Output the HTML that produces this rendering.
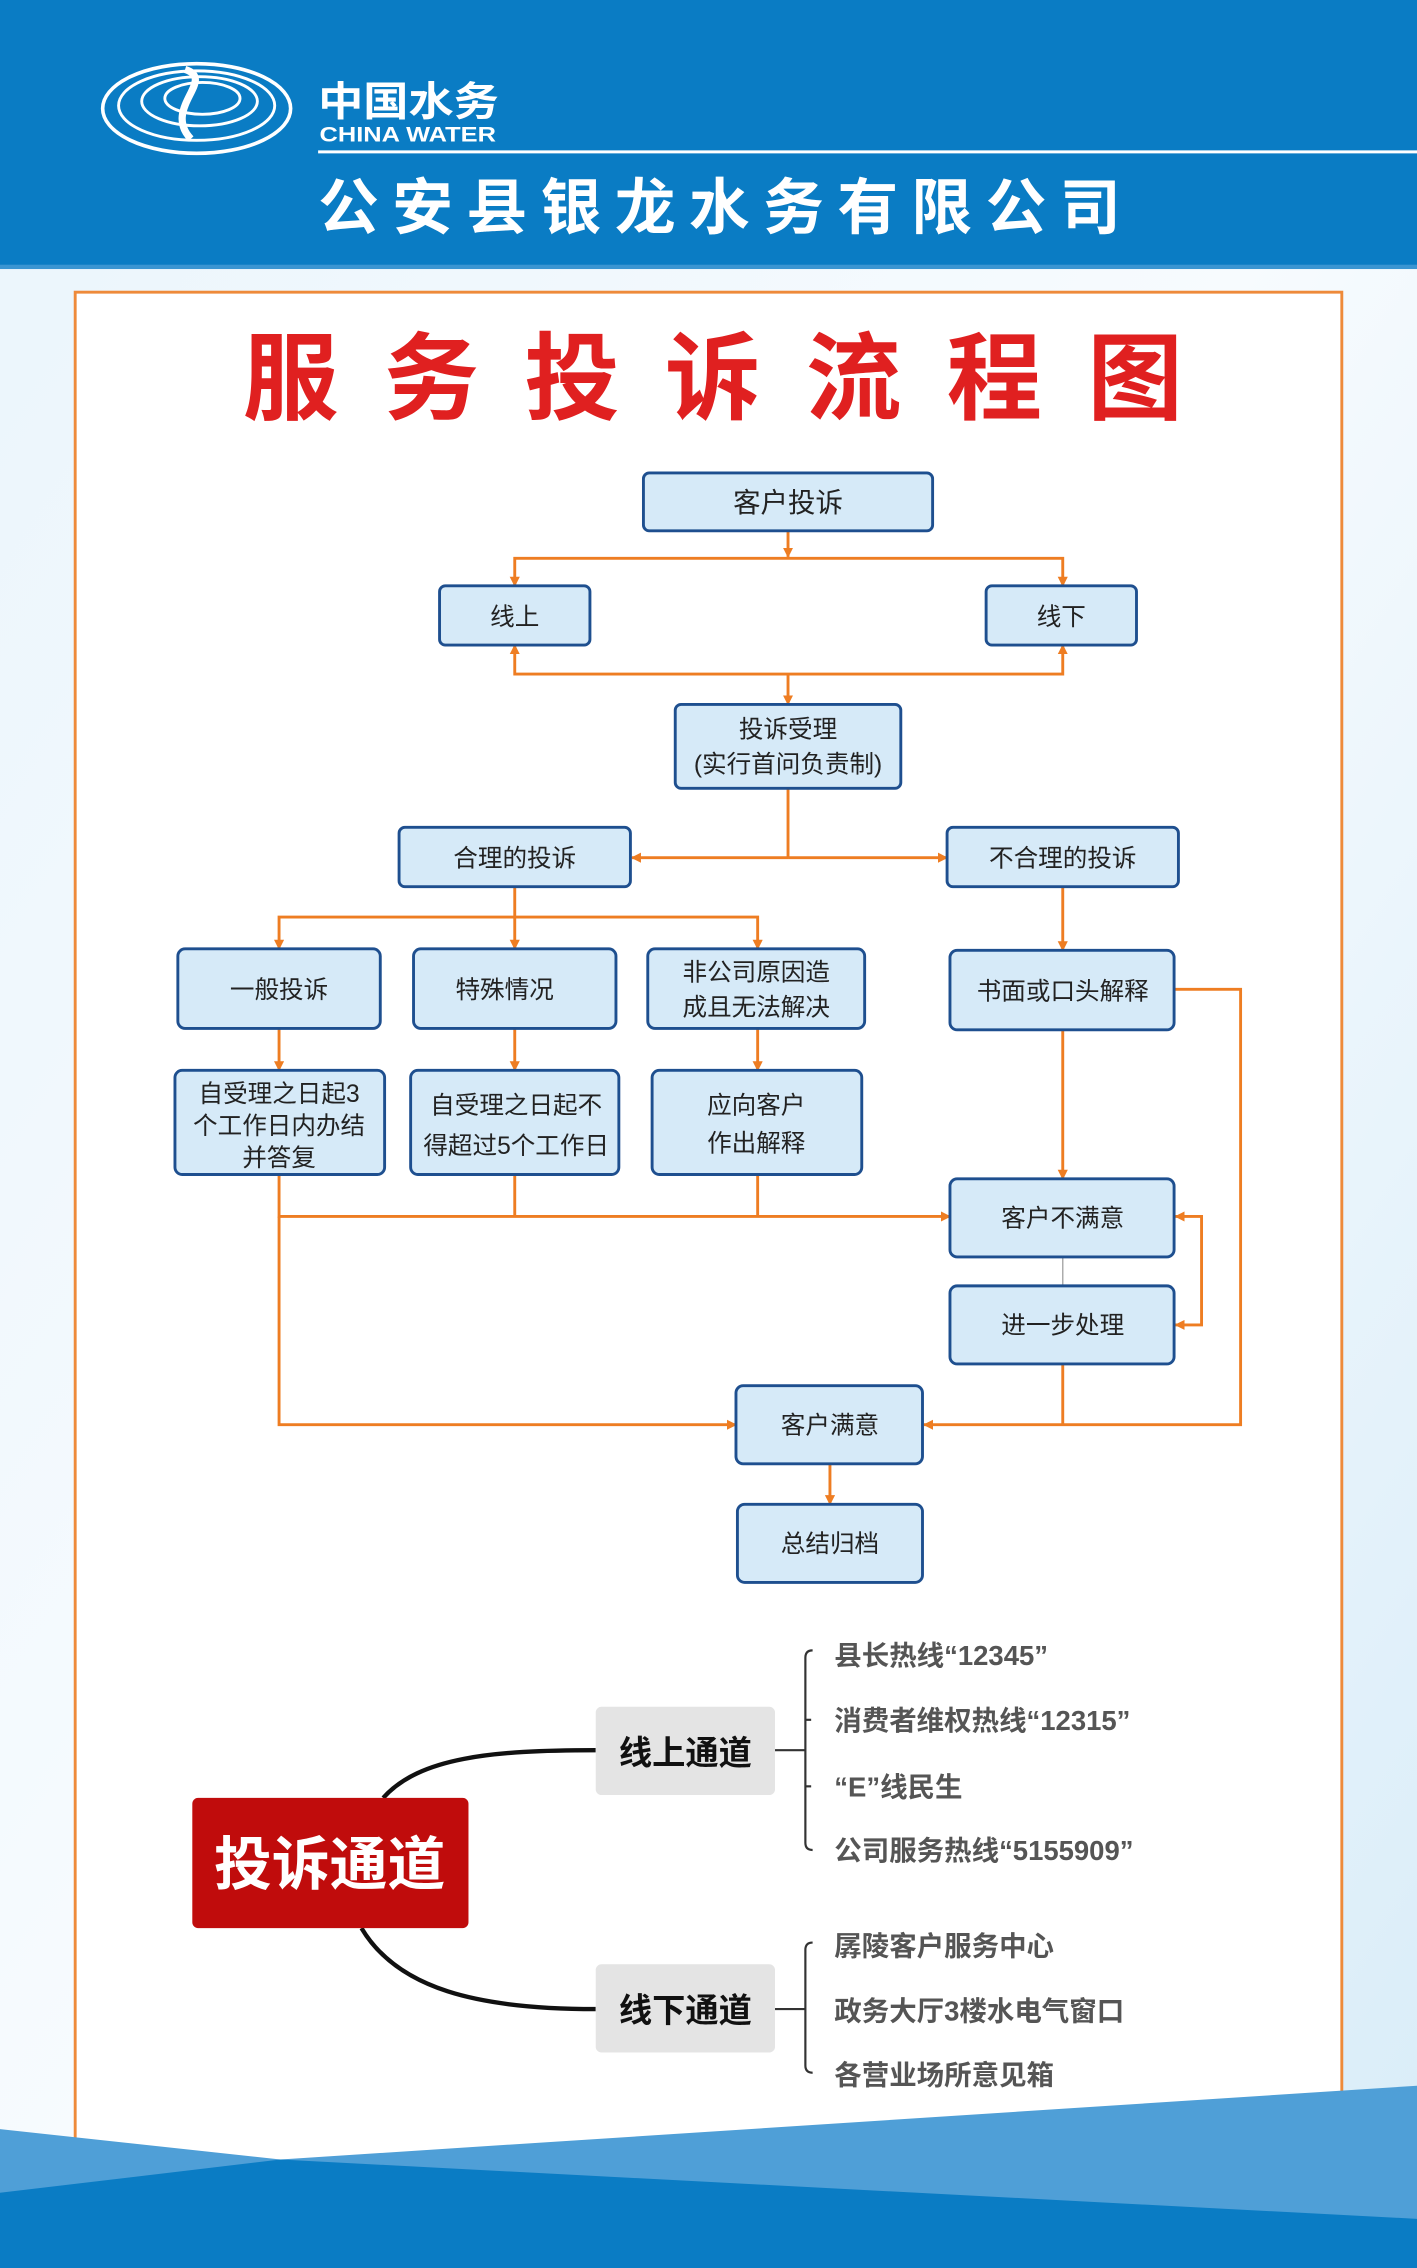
<!DOCTYPE html>
<html><head><meta charset="utf-8"><style>
html,body{margin:0;padding:0;background:#fff;}
svg{display:block;}
text{font-family:"Liberation Sans","Noto Sans CJK SC",sans-serif;}
</style></head><body>
<svg width="1417" height="2268" viewBox="0 0 980 1568" preserveAspectRatio="none" xmlns="http://www.w3.org/2000/svg">
<defs>
<linearGradient id="bg" x1="0" y1="0" x2="1" y2="1">
<stop offset="0" stop-color="#eaf5fc"/><stop offset="0.5" stop-color="#f7fbfe"/><stop offset="1" stop-color="#d8ecf8"/>
</linearGradient>
<marker id="ar" viewBox="0 0 10 10" refX="9" refY="5" markerWidth="7" markerHeight="7" orient="auto-start-reverse" markerUnits="userSpaceOnUse">
<path d="M0,0 L10,5 L0,10 z" fill="#ee7d22"/></marker>
</defs>
<rect x="0" y="0" width="980" height="1568" fill="url(#bg)"/>
<!-- header -->
<rect x="0" y="0" width="980" height="185" fill="#0a7cc4"/>
<rect x="0" y="183" width="980" height="3" fill="#3a95d2"/>
<line x1="220" y1="105" x2="980" y2="105" stroke="#fff" stroke-width="2"/>
<g fill="none" stroke="#fff">
<ellipse cx="136" cy="75" rx="65" ry="31" stroke-width="2.5"/>
<ellipse cx="136" cy="73" rx="54" ry="24" stroke-width="2"/>
<ellipse cx="138" cy="70" rx="40" ry="17" stroke-width="2"/>
<ellipse cx="140" cy="68" rx="26" ry="11" stroke-width="2"/>
<path d="M128,48 C150,55 112,75 132,96" stroke-width="5"/>
</g>
<text x="220" y="80" font-size="28" font-weight="bold" fill="#fff" textLength="125" lengthAdjust="spacingAndGlyphs">中国水务</text>
<text x="221" y="98" font-size="15" font-weight="bold" fill="#fff" textLength="122" lengthAdjust="spacingAndGlyphs">CHINA WATER</text>
<text x="220" y="158" font-size="42" font-weight="bold" fill="#fff" textLength="555">公安县银龙水务有限公司</text>
<!-- panel -->
<rect x="52" y="202" width="876" height="1300" fill="#fff" stroke="#ee8a3a" stroke-width="2"/>
<text x="168" y="285" font-size="66" font-weight="bold" fill="#e02020" textLength="650">服务投诉流程图</text>
<!-- connectors -->
<g stroke="#ee7d22" stroke-width="2" fill="none">
<line x1="545" y1="367" x2="545" y2="385" marker-end="url(#ar)"/>
<polyline points="356,405 356,386 735,386 735,405" marker-start="url(#ar)" marker-end="url(#ar)"/>
<polyline points="356,446 356,466 735,466 735,446" marker-start="url(#ar)" marker-end="url(#ar)"/>
<line x1="545" y1="466" x2="545" y2="487" marker-end="url(#ar)"/>
<line x1="545" y1="545" x2="545" y2="593"/>
<line x1="545" y1="593" x2="437" y2="593" marker-end="url(#ar)"/>
<line x1="545" y1="593" x2="655" y2="593" marker-end="url(#ar)"/>
<line x1="356" y1="613" x2="356" y2="656" marker-end="url(#ar)"/>
<polyline points="193,656 193,634 524,634 524,656" marker-start="url(#ar)" marker-end="url(#ar)"/>
<line x1="735" y1="613" x2="735" y2="657" marker-end="url(#ar)"/>
<line x1="193" y1="711" x2="193" y2="740" marker-end="url(#ar)"/>
<line x1="356" y1="711" x2="356" y2="740" marker-end="url(#ar)"/>
<line x1="524" y1="711" x2="524" y2="740" marker-end="url(#ar)"/>
<line x1="356" y1="812" x2="356" y2="841"/>
<line x1="524" y1="812" x2="524" y2="841"/>
<polyline points="193,812 193,841 657,841" marker-end="url(#ar)"/>
<line x1="735" y1="712" x2="735" y2="815" marker-end="url(#ar)"/>
<polyline points="813,841 831,841 831,916 813,916" marker-start="url(#ar)" marker-end="url(#ar)"/>
<polyline points="812,684 858,684 858,985 639,985" marker-end="url(#ar)"/>
<line x1="735" y1="943" x2="735" y2="985"/>
<polyline points="193,841 193,985 509,985" marker-end="url(#ar)"/>
<line x1="574" y1="1012" x2="574" y2="1040" marker-end="url(#ar)"/>
</g>
<line x1="735" y1="869" x2="735" y2="889" stroke="#aaa" stroke-width="1"/>
<!-- nodes -->
<g fill="#d6eaf8" stroke="#1e4f8f" stroke-width="2">
<rect x="445" y="327" width="200" height="40" rx="4"/>
<rect x="304" y="405" width="104" height="41" rx="4"/>
<rect x="682" y="405" width="104" height="41" rx="4"/>
<rect x="467" y="487" width="156" height="58" rx="4"/>
<rect x="276" y="572" width="160" height="41" rx="4"/>
<rect x="655" y="572" width="160" height="41" rx="4"/>
<rect x="123" y="656" width="140" height="55" rx="5"/>
<rect x="286" y="656" width="140" height="55" rx="5"/>
<rect x="448" y="656" width="150" height="55" rx="5"/>
<rect x="657" y="657" width="155" height="55" rx="5"/>
<rect x="121" y="740" width="145" height="72" rx="5"/>
<rect x="284" y="740" width="144" height="72" rx="5"/>
<rect x="451" y="740" width="145" height="72" rx="5"/>
<rect x="657" y="815" width="155" height="54" rx="5"/>
<rect x="657" y="889" width="155" height="54" rx="5"/>
<rect x="509" y="958" width="129" height="54" rx="5"/>
<rect x="510" y="1040" width="128" height="54" rx="5"/>
</g>
<g font-size="17" fill="#222" text-anchor="middle">
<text x="545" y="354" font-size="19">客户投诉</text>
<text x="356" y="432">线上</text>
<text x="734" y="432">线下</text>
<text x="545" y="510">投诉受理</text>
<text x="545" y="534">(实行首问负责制)</text>
<text x="356" y="599">合理的投诉</text>
<text x="735" y="599">不合理的投诉</text>
<text x="193" y="690">一般投诉</text>
<text x="349" y="690">特殊情况</text>
<text x="523" y="678">非公司原因造</text>
<text x="523" y="702">成且无法解决</text>
<text x="735" y="691">书面或口头解释</text>
<text x="193" y="762">自受理之日起3</text>
<text x="193" y="784">个工作日内办结</text>
<text x="193" y="806">并答复</text>
<text x="357" y="770">自受理之日起不</text>
<text x="357" y="798">得超过5个工作日</text>
<text x="523" y="770">应向客户</text>
<text x="523" y="796">作出解释</text>
<text x="735" y="848">客户不满意</text>
<text x="735" y="922">进一步处理</text>
<text x="574" y="991">客户满意</text>
<text x="574" y="1073">总结归档</text>
</g>
<!-- mind map -->
<path d="M265,1243 C290,1215 340,1210 412,1210" stroke="#111" stroke-width="3" fill="none"/>
<path d="M250,1333 C275,1375 330,1389 412,1389" stroke="#111" stroke-width="3" fill="none"/>
<rect x="133" y="1243" width="191" height="90" rx="4" fill="#c00c0c"/>
<text x="228" y="1303" font-size="40" font-weight="bold" fill="#fff" text-anchor="middle">投诉通道</text>
<rect x="412" y="1180" width="124" height="61" rx="4" fill="#e4e4e4"/>
<rect x="412" y="1358" width="124" height="61" rx="4" fill="#e4e4e4"/>
<text x="474" y="1220" font-size="23" font-weight="bold" fill="#111" text-anchor="middle">线上通道</text>
<text x="474" y="1398" font-size="23" font-weight="bold" fill="#111" text-anchor="middle">线下通道</text>
<g stroke="#333" stroke-width="1.5" fill="none">
<line x1="536" y1="1210" x2="557" y2="1210"/>
<path d="M562,1141 Q557,1141 557,1146 L557,1274 Q557,1279 562,1279"/>
<line x1="557" y1="1189" x2="561" y2="1189"/><line x1="557" y1="1235" x2="561" y2="1235"/>
<line x1="536" y1="1389" x2="557" y2="1389"/>
<path d="M562,1343 Q557,1343 557,1348 L557,1428 Q557,1433 562,1433"/>
</g>
<g font-size="19" font-weight="bold" fill="#555">
<text x="577" y="1151">县长热线“12345”</text>
<text x="577" y="1196">消费者维权热线“12315”</text>
<text x="577" y="1242">“E”线民生</text>
<text x="577" y="1286">公司服务热线“5155909”</text>
<text x="577" y="1352">孱陵客户服务中心</text>
<text x="577" y="1397">政务大厅3楼水电气窗口</text>
<text x="577" y="1441">各营业场所意见箱</text>
</g>
<!-- bottom waves -->
<polygon points="0,1472 194,1493 980,1442 980,1568 0,1568" fill="#4f9fd7"/>
<polygon points="0,1516 194,1493 980,1534 980,1568 0,1568" fill="#0a7cc4"/>
</svg>
</body></html>
